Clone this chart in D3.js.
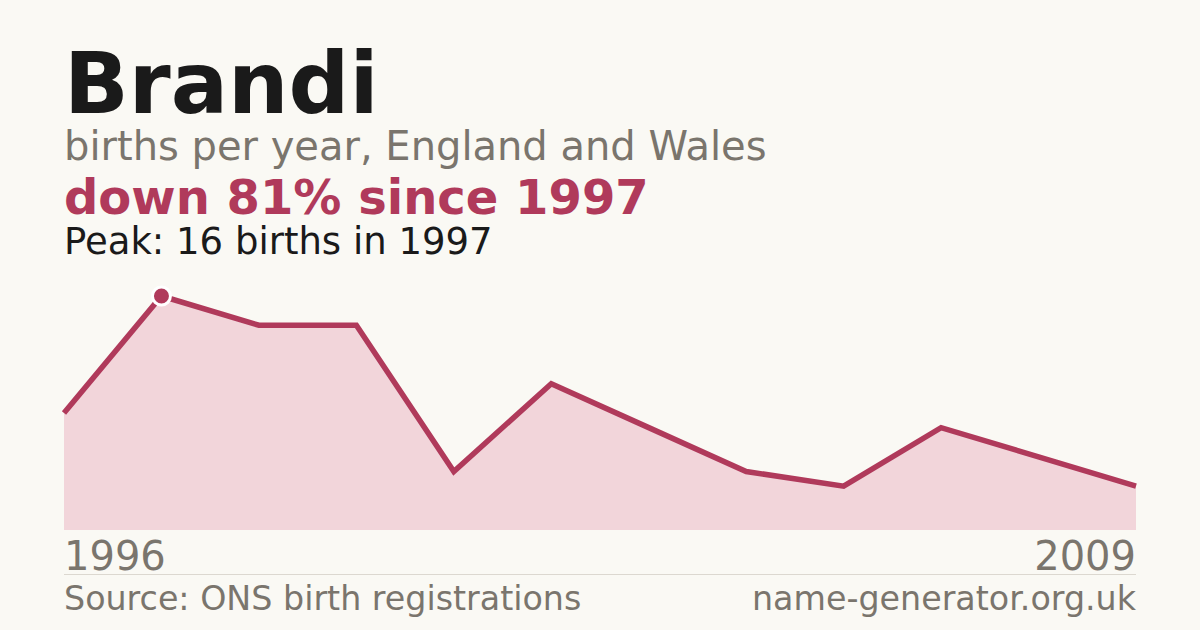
<!DOCTYPE html>
<html>
<head>
<meta charset="utf-8">
<script src="https://cdn.jsdelivr.net/npm/d3@7"></script>
<style>
  html, body { margin: 0; padding: 0; background: #faf9f4; }
  svg { display: block; font-family: "DejaVu Sans", sans-serif; }
</style>
</head>
<body>
<svg id="chart" width="1200" height="630"></svg>
<script>
var years = [1996, 1997, 1998, 1999, 2000, 2001, 2002, 2003, 2004, 2005, 2006, 2009];
var births = [8, 16, 14, 14, 4, 10, 7, 4, 3, 7, 5, 3];
var axisLabels = ["1996", "2009"];

var W = 1200, H = 630;
var plotLeft = 64, plotRight = 1136, plotTop = 296, plotBottom = 530;
var red = "#b03a5b";
var grey = "#7a756d";

var svg = d3.select("#chart");

svg.append("rect")
    .attr("width", W)
    .attr("height", H)
    .attr("fill", "#faf9f4");

//headline texts
svg.append("text")
    .attr("x", plotLeft).attr("y", 113)
    .attr("font-size", 85).attr("font-weight", "bold")
    .attr("fill", "#1a1a1a")
    .text("Brandi");

svg.append("text")
    .attr("x", plotLeft).attr("y", 160)
    .attr("font-size", 40)
    .attr("fill", grey)
    .text("births per year, England and Wales");

var peakIdx = d3.maxIndex(births);
var last = births[births.length - 1];
var drop = Math.round((1 - last / births[peakIdx]) * 100);

svg.append("text")
    .attr("x", plotLeft).attr("y", 214)
    .attr("font-size", 48).attr("font-weight", "bold")
    .attr("fill", red)
    .text("down " + drop + "% since " + years[peakIdx]);

svg.append("text")
    .attr("x", plotLeft).attr("y", 254)
    .attr("font-size", 37)
    .attr("fill", "#1a1a1a")
    .text("Peak: " + births[peakIdx] + " births in " + years[peakIdx]);

// scales
var x = d3.scalePoint()
    .domain(years)
    .range([plotLeft, plotRight]);

var y = d3.scaleLinear()
    .domain([0, d3.max(births)])
    .range([plotBottom, plotTop]);

var area = d3.area()
    .x(function(d, i) { return x(years[i]); })
    .y0(plotBottom)
    .y1(function(d) { return y(d); });

var line = d3.line()
    .x(function(d, i) { return x(years[i]); })
    .y(function(d) { return y(d); });

svg.append("path")
    .datum(births)
    .attr("d", area)
    .attr("fill", "#f2d5da");

svg.append("path")
    .datum(births)
    .attr("d", line)
    .attr("fill", "none")
    .attr("stroke", red)
    .attr("stroke-width", 5.5)
    .attr("stroke-linejoin", "miter");

// peak marker
svg.append("circle")
    .attr("cx", x(years[peakIdx]))
    .attr("cy", y(births[peakIdx]))
    .attr("r", 9)
    .attr("fill", red)
    .attr("stroke", "#ffffff")
    .attr("stroke-width", 3);

// end year labels
svg.append("text")
    .attr("x", plotLeft).attr("y", 570)
    .attr("font-size", 40)
    .attr("fill", grey)
    .text(axisLabels[0]);

svg.append("text")
    .attr("x", plotRight).attr("y", 570)
    .attr("font-size", 40)
    .attr("text-anchor", "end")
    .attr("fill", grey)
    .text(axisLabels[1]);

svg.append("line")
    .attr("x1", plotLeft).attr("x2", plotRight)
    .attr("y1", 574.5).attr("y2", 574.5)
    .attr("stroke", "#dcd8d0")
    .attr("stroke-width", 1);

// footer
svg.append("text")
    .attr("x", plotLeft).attr("y", 610)
    .attr("font-size", 33.3)
    .attr("fill", grey)
    .text("Source: ONS birth registrations");

svg.append("text")
    .attr("x", plotRight).attr("y", 610)
    .attr("font-size", 33.3)
    .attr("text-anchor", "end")
    .attr("fill", grey)
    .text("name-generator.org.uk");
</script>
</body>
</html>
